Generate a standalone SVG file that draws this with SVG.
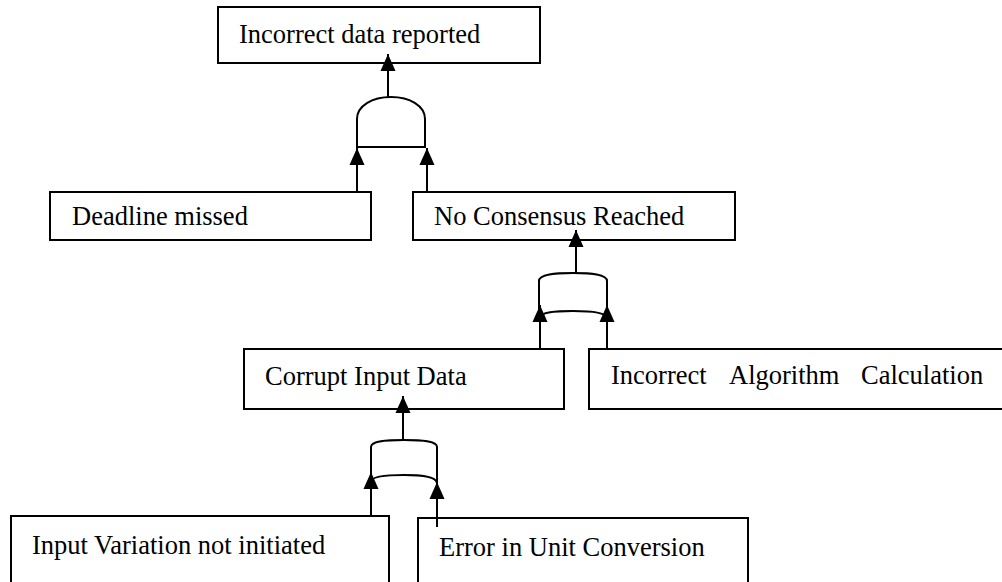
<svg xmlns="http://www.w3.org/2000/svg" width="1002" height="582" viewBox="0 0 1002 582">
  <style>
    .box { fill: #ffffff; stroke: #000000; stroke-width: 2; }
    .lbl { font-family: "Liberation Serif", "Times New Roman", serif; font-size: 26.5px; fill: #000000; }
    .gate { fill: none; stroke: #000000; stroke-width: 2; }
    .wire { fill: none; stroke: #000000; stroke-width: 2; marker-end: url(#head); }
  </style>
  <defs>
    <marker id="head" markerUnits="userSpaceOnUse" markerWidth="17" markerHeight="16" refX="17" refY="8" orient="auto">
      <path d="M0,0.5 L17,8 L0,15.5 Z" fill="#000000"/>
    </marker>
  </defs>
  <rect width="1002" height="582" fill="#ffffff"/>

  <g id="node-top">
    <rect class="box" x="218" y="7" width="322" height="56"/>
    <text class="lbl" x="239" y="43">Incorrect data reported</text>
  </g>
  <g id="node-deadline">
    <rect class="box" x="50" y="192" width="321" height="48"/>
    <text class="lbl" x="72" y="225">Deadline missed</text>
  </g>
  <g id="node-consensus">
    <rect class="box" x="413" y="192" width="322" height="48"/>
    <text class="lbl" x="434" y="225">No Consensus Reached</text>
  </g>
  <g id="node-corrupt">
    <rect class="box" x="244" y="349" width="320" height="60"/>
    <text class="lbl" x="265" y="385">Corrupt Input Data</text>
  </g>
  <g id="node-algorithm">
    <rect class="box" x="589" y="349" width="440" height="60"/>
    <text class="lbl" y="384"><tspan x="611">Incorrect</tspan><tspan x="729">Algorithm</tspan><tspan x="861">Calculation</tspan></text>
  </g>
  <g id="node-variation">
    <rect class="box" x="11" y="516" width="378" height="90"/>
    <text class="lbl" x="32" y="554">Input Variation not initiated</text>
  </g>
  <g id="node-unit">
    <rect class="box" x="418" y="518" width="330" height="90"/>
    <text class="lbl" x="439" y="556">Error in Unit Conversion</text>
  </g>

  <!-- logic gates -->
  <g id="gates">
    <!-- AND gate under the top event -->
    <path class="gate" d="M357,147 V119 C357,106 372,97 391,97 C410,97 425,106 425,119 V147 Z"/>
    <!-- OR gate under "No Consensus Reached" -->
    <path class="gate" d="M539,318 V281 C539,274 555,273 573,273 C591,273 607,274 607,281 V318"/>
    <path class="gate" d="M540,318 C540,312 556,311 573,311 C590,311 606,312 607,318"/>
    <!-- OR gate under "Corrupt Input Data" -->
    <path class="gate" d="M371,481 V447 C371,441 386,440 404,440 C422,440 437,441 437,447 V483"/>
    <path class="gate" d="M372,481 C372,476 388,475 404,475 C420,475 436,476 437,483"/>
  </g>

  <!-- connectors, drawn from the lower element up to the arrow tip;
       they sit on top so the heads overlap the box edges -->
  <g id="connectors">
    <path class="wire" d="M388,97 V54"/>
    <path class="wire" d="M357,192 V148"/>
    <path class="wire" d="M427,192 V148"/>
    <path class="wire" d="M576,273 V230"/>
    <path class="wire" d="M540,349 V305"/>
    <path class="wire" d="M607,349 V305"/>
    <path class="wire" d="M403,440 V396"/>
    <path class="wire" d="M371,516 V472"/>
    <path class="wire" d="M437,527 V482"/>
  </g>
</svg>
